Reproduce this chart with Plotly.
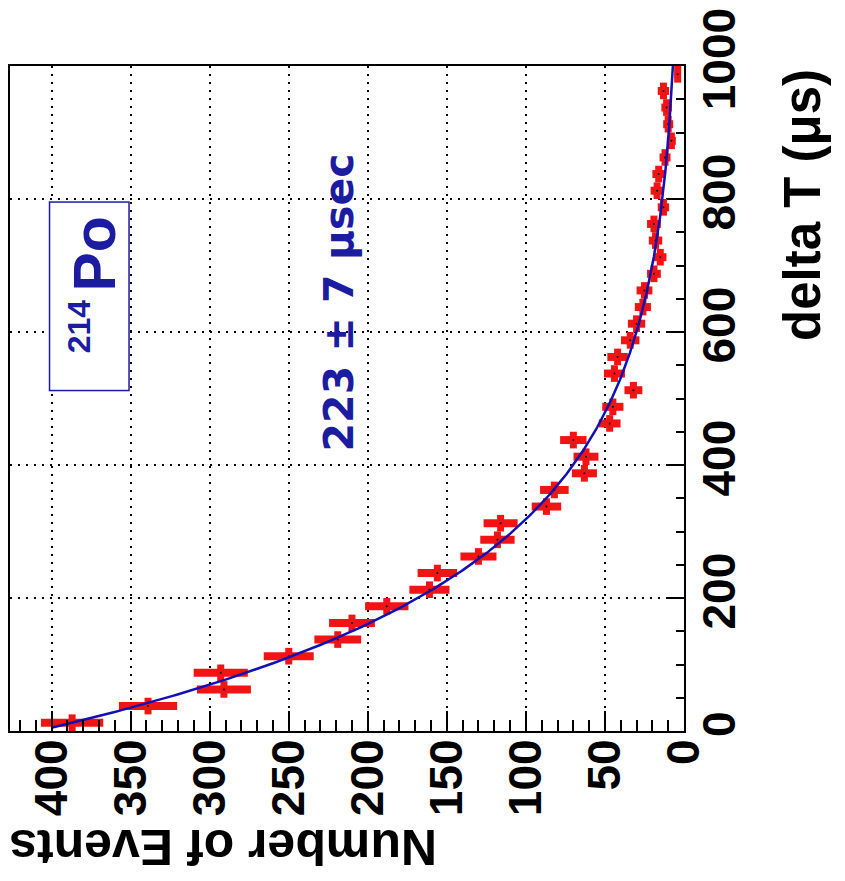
import numpy as np
import plotly.graph_objects as go

# ---- data ----
delta_t_us = [12.5, 37.5, 62.5, 87.5, 112.5, 137.5, 162.5, 187.5, 212.5, 237.5,
              262.5, 287.5, 312.5, 337.5, 362.5, 387.5, 412.5, 437.5, 462.5, 487.5,
              512.5, 537.5, 562.5, 587.5, 612.5, 637.5, 662.5, 687.5, 712.5, 737.5,
              762.5, 787.5, 812.5, 837.5, 862.5, 887.5, 912.5, 937.5, 962.5, 987.5]
counts = [387, 339, 291, 293, 250, 219, 210, 188, 161, 156,
          130, 118, 116, 87, 82, 63, 62, 70, 47, 45,
          32, 44, 42, 34, 30, 26, 25, 19, 15, 18,
          19, 13, 17, 16, 12, 8, 10, 11, 13, 4]
bin_half_width_us = 12.5

# exponential fit shown in the figure
FIT_AMPLITUDE = 406.6
FIT_TAU_US = 223.0
FIT_BASELINE = 2.45
FIT_T_START = 5.0
FIT_T_END = 1000.0

x_ticks = [0, 50, 100, 150, 200, 250, 300, 350, 400]
t_ticks = [0, 200, 400, 600, 800, 1000]

RED = "#f01414"
NAVY = "#1c1ca0"
TICKFONT = dict(family="Liberation Sans, Arial", size=46, color="black", weight="bold")

counts_arr = np.array(counts, dtype=float)
t_fit = np.linspace(FIT_T_START, FIT_T_END, 400)
n_fit = FIT_AMPLITUDE * np.exp(-t_fit / FIT_TAU_US) + FIT_BASELINE

fig = go.Figure()
fig.add_trace(go.Scatter(
    x=counts, y=delta_t_us, mode="markers",
    marker=dict(color="black", size=2),
    error_x=dict(type="data", array=np.sqrt(counts_arr), color=RED, thickness=8, width=0),
    error_y=dict(type="constant", value=bin_half_width_us, color=RED, thickness=7, width=0),
    showlegend=False, hoverinfo="skip"))
fig.add_trace(go.Scatter(
    x=n_fit, y=t_fit, mode="lines",
    line=dict(color="#1010b4", width=2.5),
    showlegend=False, hoverinfo="skip"))

common = dict(
    showgrid=True, gridcolor="black", gridwidth=1.5, griddash="2px,6px",
    zeroline=False, showline=True, linecolor="black", linewidth=2, mirror=True,
    ticks="inside", tickcolor="black", tickwidth=2, tickangle=-90,
    tickfont=TICKFONT, automargin=False, ticklabeloverflow="allow",
)

fig.update_xaxes(
    range=[426.3, 0], tickvals=x_ticks, ticklen=20, ticklabelstandoff=-12,
    minor=dict(dtick=10, ticks="inside", ticklen=11, tickwidth=2, tickcolor="black", showgrid=False),
    **common)
fig.update_yaxes(
    range=[0, 1000], side="right", tickvals=t_ticks, ticklen=16, ticklabelstandoff=-6,
    minor=dict(dtick=50, ticks="inside", ticklen=8, tickwidth=2, tickcolor="black", showgrid=False),
    **common)

# page is drawn with an 8px body margin; plot area in figure coords:
PL, PT, PW, PH = 2, 58, 674, 665


def paper_x(px):
    return (px - 8 - PL) / PW


def paper_y(py):
    return 1 - (py - 8 - PT) / PH


fig.add_annotation(
    text="Number of Events", xref="paper", yref="paper",
    x=paper_x(223), y=paper_y(847), xanchor="center", yanchor="middle",
    textangle=180, showarrow=False,
    font=dict(family="Liberation Sans, Arial", size=50, color="black", weight="bold"))
fig.add_annotation(
    text="delta T (μs)", xref="paper", yref="paper",
    x=paper_x(802), y=paper_y(205), xanchor="center", yanchor="middle",
    textangle=-90, showarrow=False,
    font=dict(family="Liberation Sans, Arial", size=51, color="black", weight="bold"))
fig.add_annotation(
    text="223 ± 7 μsec", xref="x", yref="y", x=218, y=645,
    xanchor="center", yanchor="middle", textangle=-90, showarrow=False,
    font=dict(family="DejaVu Sans", size=41, color=NAVY, weight="bold"))
# 214Po label: frame box and text
fig.add_annotation(
    text=" ", xref="x", yref="y",
    x=376, y=653, xanchor="center", yanchor="middle",
    textangle=-90, showarrow=False, width=185, height=76,
    bordercolor=NAVY, borderwidth=1.5, bgcolor="white",
    font=dict(family="Liberation Sans, Arial", size=20, color=NAVY))
fig.add_annotation(
    text='<sup><span style="font-size:32px">214</span></sup>'
         '<span style="font-size:30px">\u00a0</span>Po',
    xref="x", yref="y",
    x=376, y=653, xanchor="center", yanchor="middle", xshift=5, yshift=12,
    textangle=-90, showarrow=False,
    font=dict(family="Liberation Sans, Arial", size=59, color=NAVY, weight="bold"))

fig.update_layout(
    width=837, height=873,
    margin=dict(l=PL, r=837 - PL - PW, t=PT, b=873 - PT - PH),
    paper_bgcolor="white", plot_bgcolor="white",
)

fig.write_html("out.html")
